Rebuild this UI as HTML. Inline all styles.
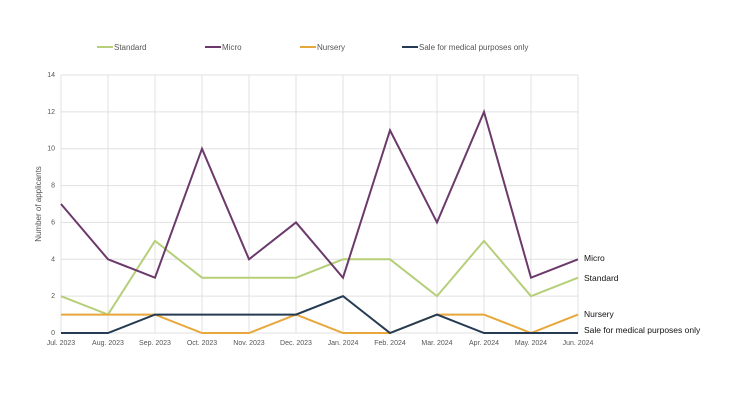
<!DOCTYPE html>
<html><head><meta charset="utf-8"><style>
body{margin:0;background:#fff;font-family:"Liberation Sans",sans-serif}
svg text{font-family:"Liberation Sans",sans-serif}
</style></head><body>
<svg id="c" width="730" height="411"></svg>
<script>
const categories=["Jul. 2023","Aug. 2023","Sep. 2023","Oct. 2023","Nov. 2023","Dec. 2023","Jan. 2024","Feb. 2024","Mar. 2024","Apr. 2024","May. 2024","Jun. 2024"];
const standard=[2,1,5,3,3,3,4,4,2,5,2,3];
const micro=[7,4,3,10,4,6,3,11,6,12,3,4];
const nursery=[1,1,1,0,0,1,0,0,1,1,0,1];
const sale=[0,0,1,1,1,1,2,0,1,0,0,0];
const yTicks=[0,2,4,6,8,10,12,14];
const seriesNames=["Standard","Micro","Nursery","Sale for medical purposes only"];
const NS="http://www.w3.org/2000/svg";
const svg=document.getElementById('c');
const x0=61,x1=578,y0=333,y1=75;
const xs=i=>x0+i*(x1-x0)/(categories.length-1);
const ys=v=>y0-v*(y0-y1)/14;
function el(t,a,txt){const e=document.createElementNS(NS,t);for(const k in a)e.setAttribute(k,a[k]);if(txt!=null)e.textContent=txt;svg.appendChild(e);return e;}
yTicks.forEach(v=>{
 const g=el('line',{x1:x0,x2:x1,y1:ys(v),y2:ys(v),stroke:'#e0e0e0','stroke-width':1});
 
 
 const t=el('text',{x:x0-6,y:ys(v)+2,'font-size':7,fill:'#555','text-anchor':'end'},v);
 
 
});
categories.forEach((c,i)=>{
 const g=el('line',{x1:xs(i),x2:xs(i),y1:y1,y2:y0,stroke:'#e0e0e0','stroke-width':1});
 
 
 const t=el('text',{x:xs(i),y:345,'font-size':7,fill:'#555','text-anchor':'middle'},c);
 
 
});
const yt=el('text',{x:41,y:204,'font-size':8,fill:'#555','text-anchor':'middle',transform:'rotate(-90 41 204)'},'Number of applicants');


const series=[[standard,'#b5cf7a'],[micro,'#6b3a6b'],[nursery,'#e8a73a'],[sale,'#243b53']];
const endLabelY=[278,258,314,330];
const legX=[97,205,300,402];
series.forEach(([d,col],k)=>{
 const p=el('polyline',{points:d.map((v,i)=>xs(i)+','+ys(v)).join(' '),fill:'none',stroke:col,'stroke-width':2});
 
 
 const lb=el('text',{x:584,y:endLabelY[k]+3,'font-size':8.5,fill:'#111'},k==3?seriesNames[k]:seriesNames[k]);
 
 
 const ll=el('line',{x1:legX[k],x2:legX[k]+16,y1:47,y2:47,stroke:col,'stroke-width':2});
 
 
 const lt=el('text',{x:legX[k]+17,y:50,'font-size':8,fill:'#555'},seriesNames[k]);
 
 
});
</script>
</body></html>
